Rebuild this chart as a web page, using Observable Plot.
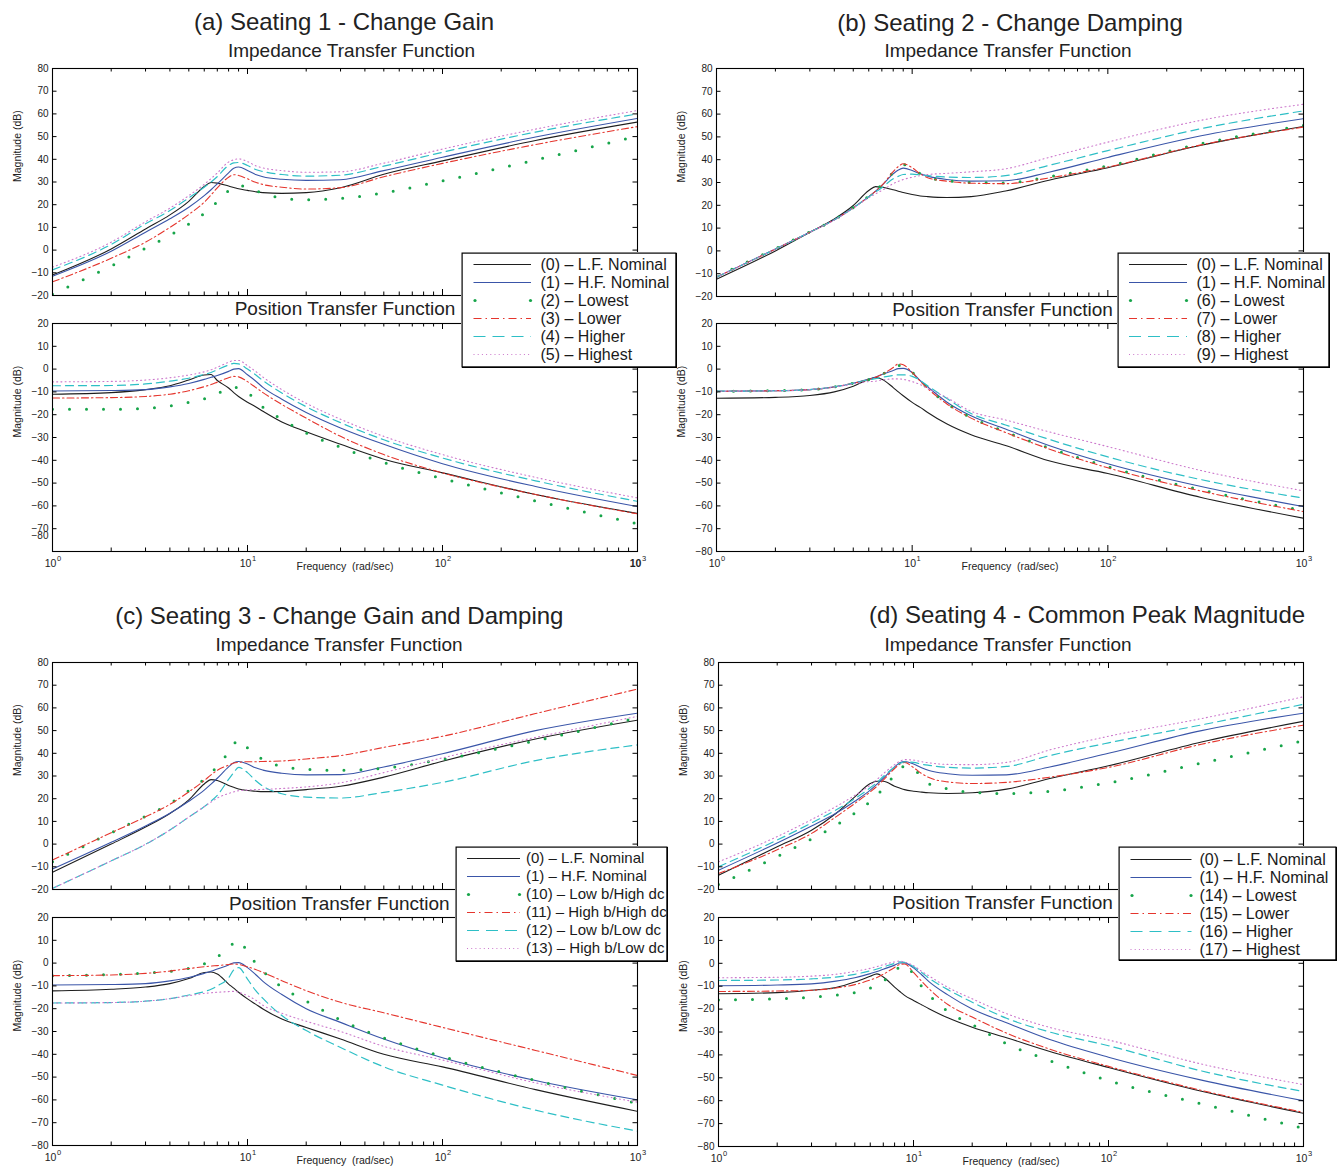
<!DOCTYPE html>
<html><head><meta charset="utf-8">
<script src="https://cdn.jsdelivr.net/npm/d3@7"></script>
<script src="https://cdn.jsdelivr.net/npm/@observablehq/plot@0.6"></script>
<style>
body{margin:0;background:#fff;}
#fig{position:relative;width:1341px;height:1172px;background:#fff;overflow:hidden;font-family:"Liberation Sans",Arial,Helvetica,sans-serif;color:#222;}
.t{position:absolute;white-space:pre;line-height:1;transform:translateX(-50%);}
.lg{position:absolute;background:#fff;box-shadow:1px 1px 0 #000;}
</style></head>
<body><div id="fig"></div>
<script>
// ---------------- DATA ----------------
const freq = [1, 2, 3, 4, 5, 6, 6.5, 7, 8, 8.5, 9, 10, 11, 12, 15, 20, 30, 50, 100, 300, 1000];

// (a) Seating 1 - Change Gain : impedance (dB)
const impA0 = [-11, 0.5, 9.3, 15.5, 21.5, 28, 29.8, 29.5, 28.2, 27.6, 27, 26.3, 25.7, 25.3, 25, 25.3, 27.5, 33.4, 39.3, 48.3, 56.4];
const impA1 = [-11.5, -0.5, 7.9, 13.8, 18.9, 24, 26.6, 29.2, 34, 36.1, 36.6, 35.1, 33.3, 32.3, 31.2, 30.7, 31, 35, 40.9, 49.8, 58];
const impA2 = [-19.4, -7, 0.8, 6.5, 11.5, 16.2, 18.6, 21.3, 26.1, 27.4, 28.6, 27.5, 26.2, 25.1, 22.9, 22.2, 22.8, 25.2, 30.5, 39.7, 50.2];
const impA3 = [-14, -3.6, 3.5, 10, 15.7, 21.1, 24.3, 27.4, 32.1, 33.2, 32.9, 31.4, 29.9, 28.9, 27.7, 26.9, 27.5, 32.3, 38.2, 46.5, 54.4];
const impA4 = [-8.7, 2.5, 11.6, 17.4, 23, 27.7, 30, 32.4, 37.3, 38.4, 38.6, 37.3, 35.5, 34.6, 33.3, 32.6, 33, 37, 43.1, 52, 60];
const impA5 = [-7.5, 3.5, 12.5, 18.5, 24, 29, 31.5, 34, 38.8, 39.8, 40.2, 39, 37.2, 36.2, 35, 34.3, 34.5, 38.3, 44.5, 53.3, 61.5];
// (a) position (dB)
const posA0 = [-11, -10.3, -9, -7.3, -4.8, -2.6, -2.4, -5, -8.3, -10.3, -12, -14.5, -16.5, -18.5, -23.2, -27.5, -33, -39.5, -45.5, -55, -63.3];
const posA1 = [-9.6, -9.4, -9, -7.8, -6.3, -4.5, -3.6, -2.8, -1, 0, 0.2, -2.5, -5.2, -8, -13.2, -19, -25.8, -33, -41.5, -51.5, -60.3];
const posA2 = [-17.6, -17.6, -17.2, -16.2, -14.6, -13, -12, -10.8, -8.3, -8, -8.2, -10, -13.8, -16.7, -22, -28, -34.3, -41, -48, -57.8, -67.8];
const posA3 = [-12.7, -12.5, -12, -11, -9.5, -7.7, -6.8, -5.7, -3.8, -3.2, -3.4, -5.5, -8, -10.3, -15.5, -21.5, -29.5, -37.5, -45.5, -55, -63.5];
const posA4 = [-7.3, -7.2, -6.5, -5.3, -4, -2.3, -1.5, -0.3, 1.8, 2.5, 2.3, 0, -2.5, -5, -10.5, -16.5, -23.5, -31, -39, -49, -58];
const posA5 = [-5.6, -5.4, -4.8, -3.8, -2.6, -1.2, -0.3, 0.8, 3, 3.8, 3.8, 1.5, -1, -3.5, -9, -15, -22, -29.5, -37.5, -47.5, -56.5];

// (b) Seating 2 - Change Damping
const impB0 = [-12.4, 0, 8.2, 14, 19.9, 26.5, 28.2, 27.9, 26.8, 26.2, 25.6, 24.7, 24.1, 23.8, 23.4, 23.8, 26.3, 31, 36.5, 46.3, 54.6];
const impB1 = [-11.5, 0.8, 8.2, 13.6, 18.9, 23.8, 26.2, 28.7, 33.8, 35.5, 36.3, 35.3, 33.8, 32.8, 31.3, 30.6, 30.8, 34.5, 41, 50.5, 58];
const impB6 = [-11.2, 1, 8.3, 13.7, 19, 24, 26.5, 29, 34.5, 36.5, 37.8, 36.3, 33.8, 32.3, 30.8, 30, 29.8, 32.5, 37.3, 47, 55];
const impB7 = [-11.5, 0.8, 8.2, 13.6, 18.9, 23.8, 26.2, 28.7, 34.8, 37, 38.2, 36.5, 33.8, 32.1, 30.6, 29.7, 29.5, 32, 36.8, 46.5, 54.3];
const impB8 = [-11.5, 0.8, 8.2, 13.6, 18.9, 23.8, 25.8, 27.7, 31.6, 32.7, 33.5, 33.7, 33.3, 33, 32.4, 32.2, 33, 37.5, 44, 53.6, 61.4];
const impB9 = [-11.5, 0.8, 8.2, 13.5, 18.7, 23.3, 25, 26.5, 29.5, 30.5, 31.3, 32.3, 33, 33.5, 34, 34.7, 36, 41, 47.7, 57.3, 64.3];
const posB0 = [-12.8, -12.4, -11.6, -10, -7.5, -4.5, -3.7, -4.4, -8.1, -10, -11.7, -14.6, -16.8, -19, -24, -28.8, -33.5, -40.2, -45.8, -56.3, -65.4];
const posB1 = [-9.7, -9.5, -9, -7.8, -6.2, -4.4, -3.5, -2.4, -0.6, 0.2, 0.3, -1.5, -5.1, -7.8, -14.4, -20.5, -26.3, -33.5, -41.5, -51.5, -60.3];
const posB6 = [-9.7, -9.5, -9, -7.8, -6.2, -4.6, -3.6, -2.3, 0.3, 1.6, 1.6, -1.3, -5.2, -8.3, -15, -21.3, -27.5, -34.6, -42.8, -53, -62];
const posB7 = [-9.7, -9.5, -9, -7.8, -6.2, -4.6, -3.6, -2.3, 0.7, 2.3, 1.9, -1.5, -5.3, -8.5, -15.2, -21.5, -27.8, -35, -43.3, -53.5, -62.5];
const posB8 = [-9.7, -9.5, -9, -7.8, -6.2, -4.7, -4.2, -3.6, -2.8, -2.5, -2.5, -3.2, -5, -7.3, -12.8, -19.5, -24.5, -30.8, -38.5, -48.5, -56.6];
const posB9 = [-9.7, -9.5, -9, -7.9, -6.5, -5.5, -5.3, -4.8, -4.3, -4.3, -4.5, -5.5, -6.8, -8.5, -12.5, -18.5, -22.3, -27.5, -34, -44.5, -53.4];

// (c) Seating 3 - Change Gain and Damping
const impC0 = [-12.4, 0, 7.5, 13.5, 19.5, 26.5, 28.4, 28, 25.8, 25, 24.3, 23.6, 23.3, 23.1, 23.2, 24, 25.5, 29.5, 36.5, 46.3, 54.6];
const impC1 = [-11, 0.8, 8, 13.6, 18.9, 23.8, 26.4, 29, 34, 35.8, 36.4, 35.3, 33.6, 32.6, 31.2, 30.5, 30.6, 34, 39.8, 50, 57.7];
const impC10 = [-7.8, 5, 12.3, 17.8, 23.5, 28.6, 31.4, 34.2, 40.6, 43.9, 46, 42.4, 39.4, 37.3, 34.2, 33, 32.5, 33.4, 37.3, 45.5, 55.7];
const impC11 = [-7, 5, 12, 17.5, 23, 28, 30.5, 32.5, 34.8, 35.7, 36, 36.3, 36.3, 36.4, 36.6, 37.5, 39, 42.6, 47.5, 57.5, 68.3];
const impC12 = [-19.5, -7.4, -0.1, 6.2, 11.9, 16.5, 18.9, 21.5, 28.5, 31.5, 33.8, 31.5, 28, 25.5, 22.2, 20.7, 20.3, 22.8, 27.2, 36.8, 43.7];
const impC13 = [-19.5, -7.4, -0.1, 6.2, 11.9, 16.5, 18.5, 20.3, 22.3, 23, 23.5, 23.8, 24, 24.1, 24.5, 25.2, 27, 31.5, 38, 47, 56.3];
const posC0 = [-12.2, -11.5, -10.5, -9, -6.8, -4.1, -3.9, -4.8, -9.2, -11, -12.8, -15.7, -18, -20.1, -24.5, -28.2, -33.3, -40, -45.5, -55.5, -65];
const posC1 = [-9.6, -9.4, -9, -7.8, -6.3, -4.5, -3.6, -2.6, -0.8, 0.1, 0.2, -2, -5, -8, -13.8, -20, -26, -33.3, -41.5, -51.5, -60];
const posC10 = [-5.6, -5, -4.4, -3.6, -2.3, -0.3, 1.2, 2.7, 6.9, 8.8, 10, 4.8, 0, -3.5, -10.6, -16.6, -24.9, -32.8, -41, -51.5, -61.5];
const posC11 = [-5.5, -5.2, -4.5, -3.5, -2.4, -1.6, -1.3, -1.1, -0.6, -0.4, -0.6, -1.6, -2.8, -4.1, -7.7, -12.1, -17.2, -21.8, -28.2, -38.3, -49.3];
const posC12 = [-17.5, -17.3, -16.7, -15.6, -14, -12.5, -11.5, -10, -6.5, -3, -2, -7, -12, -15.5, -23, -29.6, -37, -45.5, -53.5, -64.5, -73.7];
const posC13 = [-17.5, -17.3, -16.7, -15.6, -14.3, -13.3, -13, -12.8, -12.5, -12.4, -12.8, -14.3, -16.2, -18.5, -22, -25.5, -30, -36.5, -42.5, -52.5, -61];

// (d) Seating 4 - Common Peak Magnitude
const impD0 = [-13.7, -1.2, 6.1, 13.5, 20.8, 26.7, 27.7, 27.7, 25.5, 24.7, 24, 23.3, 22.9, 22.6, 22.3, 22.6, 24.2, 28.9, 34.5, 45, 54.1];
const impD1 = [-11.5, 0.5, 8, 13.6, 18.9, 23.8, 26.4, 29, 34, 35.8, 36.4, 35.3, 33.6, 32.4, 31, 30.3, 30.5, 34, 40, 50, 57.7];
const impD14 = [-17.8, -5.5, 2.3, 8.2, 13.7, 18.8, 21.6, 24.5, 30.4, 32.5, 34.5, 33, 29.7, 26.5, 24.3, 22.8, 22.3, 23.2, 27, 35.7, 45.5];
const impD15 = [-13, -2.5, 4.7, 12, 17.9, 23, 25.5, 28.2, 33.3, 35.2, 36, 33.7, 31.1, 29.3, 27.4, 26.7, 27.2, 29.5, 33.8, 44, 52.4];
const impD16 = [-10, 1.8, 9.3, 15, 20, 24.8, 27.2, 29.8, 34, 35.5, 36.2, 36, 35.2, 34.7, 33.8, 33.5, 34.2, 39, 44.6, 52.5, 61.6];
const impD17 = [-7.8, 3.3, 10.8, 16.5, 21.5, 26, 28.5, 31, 35, 36.5, 37.2, 37, 36.3, 35.8, 35.1, 35, 36, 41.5, 47.5, 55.3, 64.9];
const posD0 = [-13.3, -12.8, -11.8, -10.6, -8.2, -5.7, -4.6, -6, -10.4, -12.3, -14, -16.2, -18.1, -19.8, -23.8, -27.9, -32.5, -38.5, -45.5, -55.9, -65.5];
const posD1 = [-9.8, -9.5, -9, -7.8, -6.3, -4.5, -3.6, -2.6, -0.8, 0.1, 0.2, -2, -5, -8, -13.8, -20, -26, -33.3, -41, -51, -60];
const posD14 = [-16, -15.5, -14.8, -13.9, -12.8, -10.8, -9.5, -7.8, -3.7, -1.5, -0.9, -4.8, -10, -13.7, -21, -26.8, -35.1, -42.5, -51.2, -61.4, -72];
const posD15 = [-12.3, -12.1, -11.8, -10.8, -9.3, -7.3, -6.2, -4.8, -1.8, -0.5, -0.3, -4, -7.8, -11.1, -18, -23.5, -30.5, -37.5, -45, -55.5, -65.1];
const posD16 = [-7.5, -7.3, -6.8, -6, -4.8, -3.3, -2.5, -1.6, 0, 0.6, 0.4, -1.5, -4, -6.5, -11.5, -17, -24, -30, -36, -47, -56];
const posD17 = [-6.3, -6.1, -5.6, -4.8, -3.5, -2.2, -1.4, -0.6, 0.6, 1, 0.5, -1, -3.5, -5.5, -10.5, -15.5, -22, -28, -33.5, -44, -53];

// Axis ticks and labels
const impTicks = [-20, -10, 0, 10, 20, 30, 40, 50, 60, 70, 80];
const posTicks = [-80, -70, -60, -50, -40, -30, -20, -10, 0, 10, 20];
const posTicksA = [-70, -60, -50, -40, -30, -20, -10, 0, 10, 20];
const strayA = [{v: -73.2, t: "\u221280"}];
const xMajor = [1, 10, 100, 1000];
const xMinor = [2, 3, 4, 5, 6, 7, 8, 9, 20, 30, 40, 50, 60, 70, 80, 90, 200, 300, 400, 500, 600, 700, 800, 900];
const yTitle = "Magnitude (dB)";
const xTitle = "Frequency\u00a0 (rad/sec)";

// Titles and legends
const titles = ["(a) Seating 1 - Change Gain", "(b) Seating 2 - Change Damping", "(c) Seating 3 - Change Gain and Damping", "(d) Seating 4 - Common Peak Magnitude"];
const impTitle = "Impedance Transfer Function";
const posTitle = "Position Transfer Function";
const legendA = ["(0) \u2013 L.F. Nominal", "(1) \u2013 H.F. Nominal", "(2) \u2013 Lowest", "(3) \u2013 Lower", "(4) \u2013 Higher", "(5) \u2013 Highest"];
const legendB = ["(0) \u2013 L.F. Nominal", "(1) \u2013 H.F. Nominal", "(6) \u2013 Lowest", "(7) \u2013 Lower", "(8) \u2013 Higher", "(9) \u2013 Highest"];
const legendC = ["(0) \u2013 L.F. Nominal", "(1) \u2013 H.F. Nominal", "(10) \u2013 Low b/High dc", "(11) \u2013 High b/High dc", "(12) \u2013 Low b/Low dc", "(13) \u2013 High b/Low dc"];
const legendD = ["(0) \u2013 L.F. Nominal", "(1) \u2013 H.F. Nominal", "(14) \u2013 Lowest", "(15) \u2013 Lower", "(16) \u2013 Higher", "(17) \u2013 Highest"];

// ---------------- STYLE & LAYOUT ----------------
const FONT = '"Liberation Sans", Arial, Helvetica, sans-serif';
const COL = {black: "#1e1e1e", blue: "#3a55a8", green: "#17a54a", red: "#e5352d", cyan: "#2ebfc6", magenta: "#cc78cc"};
const lineStyles = [
  {stroke: COL.black, strokeWidth: 1.1},
  {stroke: COL.blue, strokeWidth: 1.1},
  {stroke: COL.green, strokeWidth: 3, strokeDasharray: "0 17", strokeLinecap: "round"},
  {stroke: COL.red, strokeWidth: 1.1, strokeDasharray: "7 3 1.5 3"},
  {stroke: COL.cyan, strokeWidth: 1.2, strokeDasharray: "8 5"},
  {stroke: COL.magenta, strokeWidth: 1.1, strokeDasharray: "1 3.2"}
];

const panels = [
  {title: titles[0], imp: [impA0, impA1, impA2, impA3, impA4, impA5], pos: [posA0, posA1, posA2, posA3, posA4, posA5], legend: legendA,
   impBox: {x0: 52, x1: 637, y0: 68, y1: 295}, posBox: {x0: 52, x1: 637, y0: 323, y1: 551},
   tPos: [[344, 30.5], [351.5, 57], [345, 315]], boldLast: true, posYLabels: posTicksA, stray: strayA,
   lg: {x0: 461, y0: 252, x1: 676, y1: 367, r0: 11, r1: 102, sx0: 12.5, sx1: 70, tx: 79, fs: 16}},
  {title: titles[1], imp: [impB0, impB1, impB6, impB7, impB8, impB9], pos: [posB0, posB1, posB6, posB7, posB8, posB9], legend: legendB,
   impBox: {x0: 716, x1: 1303, y0: 68, y1: 296}, posBox: {x0: 716, x1: 1303, y0: 323, y1: 551},
   tPos: [[1010, 31], [1008, 57], [1002.5, 316]],
   lg: {x0: 1117, y0: 252, x1: 1329, y1: 367, r0: 11, r1: 102, sx0: 12, sx1: 70, tx: 79, fs: 16}},
  {title: titles[2], imp: [impC0, impC1, impC10, impC11, impC12, impC13], pos: [posC0, posC1, posC10, posC11, posC12, posC13], legend: legendC,
   impBox: {x0: 52, x1: 637, y0: 662, y1: 889}, posBox: {x0: 52, x1: 637, y0: 917, y1: 1145},
   tPos: [[339.3, 624.3], [339, 651], [339.3, 910]],
   lg: {x0: 455, y0: 846, x1: 667, y1: 961, r0: 11, r1: 102, sx0: 12, sx1: 65, tx: 70.5, fs: 15}},
  {title: titles[3], imp: [impD0, impD1, impD14, impD15, impD16, impD17], pos: [posD0, posD1, posD14, posD15, posD16, posD17], legend: legendD,
   impBox: {x0: 718, x1: 1303, y0: 662, y1: 889}, posBox: {x0: 718, x1: 1303, y0: 917, y1: 1146},
   tPos: [[1087, 623.5], [1008, 651], [1002.5, 909.5]],
   lg: {x0: 1118, y0: 846, x1: 1336, y1: 960, r0: 12.5, r1: 103, sx0: 12.5, sx1: 73.5, tx: 81, fs: 16}}
];

const fig = document.getElementById("fig");
const fmtY = d => d < 0 ? "\u2212" + (-d) : String(d);
const expOf = d => String(Math.round(Math.log10(d)));

function subplot(box, series, kind, p) {
  const mL = 62, mR = 12, mT = 10, mB = 36;
  const fw = box.x1 - box.x0, fh = box.y1 - box.y0;
  const isPos = kind === "pos";
  const ticks = isPos ? posTicks : impTicks;
  const labels = isPos ? (p.posYLabels || posTicks) : impTicks;
  const marks = [];
  series.forEach((vals, i) => {
    const rows = freq.map((f, j) => ({f, v: vals[j]}));
    marks.push(Plot.line(rows, {x: "f", y: "v", curve: "monotone-x", clip: true, ...lineStyles[i]}));
  });
  marks.push(
    Plot.tickY(ticks, {y: d => d, stroke: "#000", insetRight: fw - 4.5}),
    Plot.tickY(ticks, {y: d => d, stroke: "#000", insetLeft: fw - 4.5}),
    Plot.tickX(xMajor, {x: d => d, stroke: "#000", insetTop: fh - 6}),
    Plot.tickX(xMajor, {x: d => d, stroke: "#000", insetBottom: fh - 6}),
    Plot.tickX(xMinor, {x: d => d, stroke: "#000", insetTop: fh - 3.5}),
    Plot.tickX(xMinor, {x: d => d, stroke: "#000", insetBottom: fh - 3.5}),
    Plot.frame({stroke: "#000", strokeWidth: 1.1}),
    Plot.text(labels, {y: d => d, text: fmtY, frameAnchor: "left", dx: -4, textAnchor: "end", fontSize: 10, fill: "#222"}),
    Plot.text([yTitle], {frameAnchor: "left", dx: -35, rotate: -90, fontSize: 10.5, fill: "#222"})
  );
  if (isPos) {
    if (p.stray) marks.push(Plot.text(p.stray, {y: "v", text: "t", frameAnchor: "left", dx: -4, textAnchor: "end", fontSize: 10, fill: "#222"}));
    const normal = p.boldLast ? xMajor.slice(0, 3) : xMajor;
    const bold = p.boldLast ? xMajor.slice(3) : [];
    for (const [set, fw2] of [[normal, "normal"], [bold, "bold"]]) {
      if (!set.length) continue;
      marks.push(
        Plot.text(set, {x: d => d, text: () => "10", frameAnchor: "bottom", dy: 15, dx: -2, fontSize: 10.5, fontWeight: fw2, fill: "#222"}),
        Plot.text(set, {x: d => d, text: expOf, frameAnchor: "bottom", dy: 9.5, dx: 6.5, fontSize: 7.5, fill: "#222"})
      );
    }
    marks.push(Plot.text([xTitle], {frameAnchor: "bottom", dy: 18.5, fontSize: 10.5, fill: "#222"}));
  }
  const svg = Plot.plot({
    width: fw + mL + mR, height: fh + mT + mB,
    marginLeft: mL, marginRight: mR, marginTop: mT, marginBottom: mB,
    x: {type: "log", domain: [1, 1000], axis: null},
    y: {domain: isPos ? [-80, 20] : [-20, 80], axis: null},
    style: {background: "transparent", overflow: "visible", fontFamily: FONT, fontSize: "10px", color: "#222"},
    marks
  });
  svg.style.position = "absolute";
  svg.style.left = (box.x0 - mL) + "px";
  svg.style.top = (box.y0 - mT) + "px";
  svg.style.maxWidth = "none";
  fig.appendChild(svg);
}

function addText(str, cx, baseline, size) {
  const d = document.createElement("div");
  d.className = "t";
  d.textContent = str;
  d.style.fontSize = size + "px";
  d.style.left = cx + "px";
  d.style.top = (baseline - 0.8465 * size) + "px";
  fig.appendChild(d);
}

function legend(labels, g) {
  const w = g.x1 - g.x0, h = g.y1 - g.y0;
  const marks = [];
  labels.forEach((lab, i) => {
    const st = lineStyles[i];
    if (i === 2) {
      marks.push(Plot.dot([g.sx0 + 1, g.sx1 - 1], {x: d => d, y: () => lab, r: 1.6, fill: st.stroke, stroke: null}));
    } else {
      marks.push(Plot.ruleY([lab], {y: d => d, x1: g.sx0, x2: g.sx1, stroke: st.stroke, strokeWidth: st.strokeWidth,
        strokeDasharray: i === 4 ? "12 7" : i === 3 ? "8 4 1.5 4" : st.strokeDasharray}));
    }
  });
  marks.push(
    Plot.text(labels, {x: g.tx, y: d => d, textAnchor: "start", fontSize: g.fs, fill: "#1a1a1a"}),
    Plot.frame({stroke: "#000", strokeWidth: 1.2, inset: 0.6})
  );
  const svg = Plot.plot({
    width: w, height: h, margin: 0,
    x: {domain: [0, w], range: [0, w], axis: null},
    y: {type: "point", domain: labels, range: [g.r0, g.r1], padding: 0, axis: null},
    style: {background: "#fff", overflow: "visible", fontFamily: FONT, maxWidth: "none"},
    marks
  });
  const box = document.createElement("div");
  box.className = "lg";
  box.style.left = g.x0 + "px";
  box.style.top = g.y0 + "px";
  box.style.width = w + "px";
  box.style.height = h + "px";
  box.appendChild(svg);
  return box;
}

const legends = [];
for (const p of panels) {
  subplot(p.impBox, p.imp, "imp", p);
  subplot(p.posBox, p.pos, "pos", p);
  addText(p.title, p.tPos[0][0], p.tPos[0][1], 24);
  addText(impTitle, p.tPos[1][0], p.tPos[1][1], 19);
  addText(posTitle, p.tPos[2][0], p.tPos[2][1], 19);
  legends.push(legend(p.legend, p.lg));
}
legends.forEach(l => fig.appendChild(l));
</script>
</body></html>
